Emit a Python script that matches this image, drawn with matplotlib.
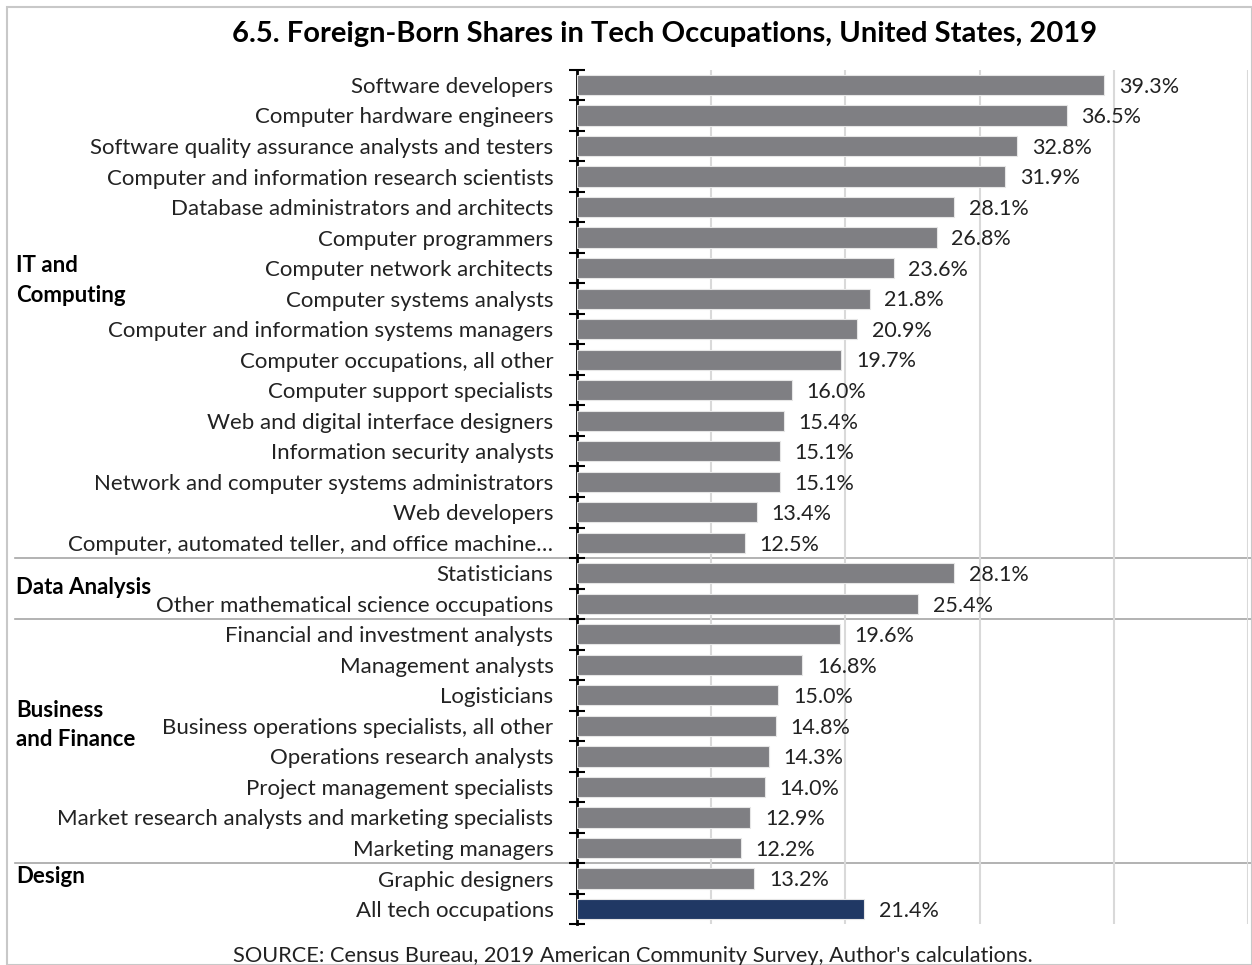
import matplotlib
matplotlib.use("Agg")
import matplotlib.pyplot as plt
import matplotlib.transforms as mtransforms
from matplotlib.patches import Rectangle
import numpy as np

plt.rcParams['font.family'] = ['Lato', 'DejaVu Sans']

occupations = [
    "Software developers",
    "Computer hardware engineers",
    "Software quality assurance analysts and testers",
    "Computer and information research scientists",
    "Database administrators and architects",
    "Computer programmers",
    "Computer network architects",
    "Computer systems analysts",
    "Computer and information systems managers",
    "Computer occupations, all other",
    "Computer support specialists",
    "Web and digital interface designers",
    "Information security analysts",
    "Network and computer systems administrators",
    "Web developers",
    "Computer, automated teller, and office machine\u2026",
    "Statisticians",
    "Other mathematical science occupations",
    "Financial and investment analysts",
    "Management analysts",
    "Logisticians",
    "Business operations specialists, all other",
    "Operations research analysts",
    "Project management specialists",
    "Market research analysts and marketing specialists",
    "Marketing managers",
    "Graphic designers",
    "All tech occupations",
]
shares = [39.3, 36.5, 32.8, 31.9, 28.1, 26.8, 23.6, 21.8, 20.9, 19.7, 16.0, 15.4,
          15.1, 15.1, 13.4, 12.5, 28.1, 25.4, 19.6, 16.8, 15.0, 14.8, 14.3, 14.0,
          12.9, 12.2, 13.2, 21.4]
groups = ["IT and\nComputing", "Data Analysis", "Business\nand Finance", "Design"]
group_label_rows = [6.4, 16.45, 20.97, 25.92]
separator_after_rows = [15, 17, 25]

W, H = 1252, 965
fig = plt.figure(figsize=(W / 100, H / 100), dpi=100)
fig.patch.set_facecolor("white")

# outer light border
fig.add_artist(Rectangle((7 / W, 0), 1 - 7 / W, 1 - 7 / H, transform=fig.transFigure,
                         fill=False, edgecolor="#c8c8c8", linewidth=1.5))

left, right = 577 / W, 1248 / W
top, bottom = 1 - 69.7 / H, 1 - 924.3 / H
ax = fig.add_axes([left, bottom, right - left, top - bottom])

y = np.arange(len(occupations))
colors = ["#7f7f83"] * (len(occupations) - 1) + ["#203864"]
ax.barh(y, shares, height=0.66, color=colors, edgecolor="#e6e6e6", linewidth=0.8, zorder=3)

for yi, v in zip(y, shares):
    ax.text(v + 1.1, yi + 0.06, f"{v:.1f}%", va="center", ha="left", fontsize=15.5,
            color="#222222", zorder=4)

ax.set_xlim(0, 50)
ax.set_ylim(len(occupations) - 0.5, -0.5)
ax.set_xticks([10, 20, 30, 40, 50])
ax.xaxis.grid(True, color="#d9d9d9", linewidth=1.5, zorder=0)
ax.tick_params(axis="x", length=0, labelbottom=False)

ax.set_yticks(y)
ax.set_yticklabels(occupations, fontsize=16, color="#222222")
ax.tick_params(axis="y", which="major", length=0, pad=17)
ax.set_yticks(np.arange(-0.5, len(occupations), 1), minor=True)
ax.tick_params(axis="y", which="minor", direction="inout", length=12, width=1.5, color="black")

for s in ["top", "right", "bottom"]:
    ax.spines[s].set_visible(False)
ax.spines["left"].set_linewidth(2)
ax.spines["left"].set_color("black")

# group separators
trans = mtransforms.blended_transform_factory(fig.transFigure, ax.transData)
for r in separator_after_rows:
    ax.plot([15 / W, 1.0], [r + 0.5, r + 0.5], transform=trans, color="#a6a6a6",
            linewidth=1.2, clip_on=False, zorder=1)

for g, r in zip(groups, group_label_rows):
    ax.text(16 / W, r, g, transform=trans, ha="left", va="center", fontsize=16,
            fontweight="bold", color="black", linespacing=1.5)

fig.text(665 / W, 1 - 34 / H, "6.5. Foreign-Born Shares in Tech Occupations, United States, 2019",
         ha="center", va="center", fontsize=21, fontweight="bold", color="black")
fig.text(633 / W, 1 - 956 / H,
         "SOURCE: Census Bureau, 2019 American Community Survey, Author's calculations.",
         ha="center", va="center", fontsize=15.7, color="#222222")

fig.savefig("out.png", dpi=100, facecolor="white")
